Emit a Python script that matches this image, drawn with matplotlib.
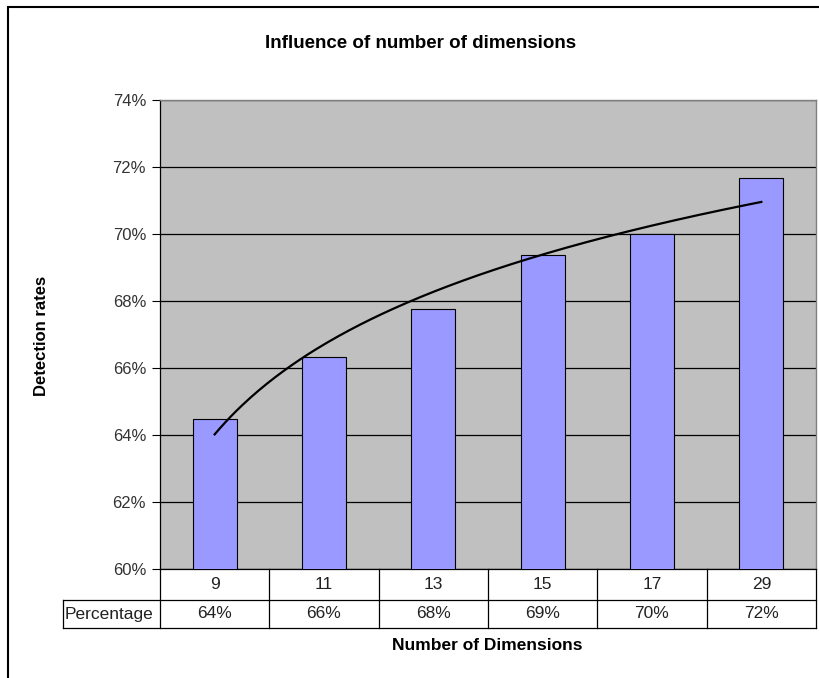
import numpy as np
import matplotlib.pyplot as plt
from matplotlib.patches import Rectangle
from matplotlib.lines import Line2D

# Detection rate per number of dimensions
dimensions = ["9", "11", "13", "15", "17", "29"]
detection_rates = [64.48, 66.32, 67.77, 69.36, 70.00, 71.66]
row_label = "Percentage"

y_ticks = [60, 62, 64, 66, 68, 70, 72, 74]

plt.rcParams["font.family"] = ["Liberation Sans", "DejaVu Sans"]

W, H = 820, 678
fig = plt.figure(figsize=(W / 100, H / 100), dpi=100)

# plot area in pixel coordinates
x0, x1 = 160, 816
y_top, y_bot = 100, 569
ax = fig.add_axes([x0 / W, 1 - y_bot / H, (x1 - x0) / W, (y_bot - y_top) / H])
ax.set_facecolor("#C0C0C0")

x = np.arange(len(dimensions))
ax.bar(x, detection_rates, width=0.4, color="#9999FF", edgecolor="black",
       linewidth=0.8, zorder=3)

# logarithmic trendline fitted on category index (1..n)
idx = np.arange(1, len(dimensions) + 1)
a, b = np.polyfit(np.log(idx), detection_rates, 1)
xs = np.linspace(1, len(dimensions), 200)
ax.plot(xs - 1, a * np.log(xs) + b, color="black", linewidth=1.6, zorder=4)

ax.set_xlim(-0.5, len(dimensions) - 0.5)
ax.set_ylim(y_ticks[0], y_ticks[-1])
ax.set_yticks(y_ticks)
ax.set_yticklabels([f"{t}%" for t in y_ticks], fontsize=12, color="#333333")
ax.set_xticks([])
ax.tick_params(axis="y", direction="out", length=6, width=0.8, pad=4)
ax.yaxis.grid(True, color="black", linewidth=0.9, zorder=1)
ax.set_axisbelow(True)

for side in ["top", "right"]:
    ax.spines[side].set_color("#808080")
    ax.spines[side].set_linewidth(1.0)
ax.spines["left"].set_color("black")
ax.spines["left"].set_linewidth(0.9)
ax.spines["bottom"].set_color("black")
ax.spines["bottom"].set_linewidth(0.9)

# data table below the plot
h_px = y_bot - y_top
w_px = x1 - x0
r1 = -31 / h_px
r2 = -59 / h_px
left_cell = (63 - x0) / w_px
tr = ax.transAxes
lkw = dict(color="black", linewidth=0.9, transform=tr, clip_on=False)
ax.add_line(Line2D([0, 0], [0, r2], **lkw))
ax.add_line(Line2D([1, 1], [0, r2], **lkw))
ax.add_line(Line2D([left_cell, 1], [r1, r1], **lkw))
ax.add_line(Line2D([left_cell, 1], [r2, r2], **lkw))
ax.add_line(Line2D([left_cell, left_cell], [r1, r2], **lkw))
n = len(dimensions)
for i in range(1, n):
    ax.add_line(Line2D([i / n, i / n], [0, r2], **lkw))
for i, (d, v) in enumerate(zip(dimensions, detection_rates)):
    cx = (i + 0.5) / n
    ax.text(cx, r1 / 2, d, transform=tr, ha="center", va="center",
            fontsize=12.5, color="#222222")
    ax.text(cx, (r1 + r2) / 2, f"{v:.0f}%", transform=tr, ha="center",
            va="center", fontsize=12.5, color="#222222")
ax.text(left_cell + 0.003, (r1 + r2) / 2, row_label, transform=tr, ha="left",
        va="center", fontsize=12.5, color="#222222")

# titles
fig.text(421 / W, 1 - 44 / H, "Influence of number of dimensions",
         ha="center", va="center", fontsize=13.5, fontweight="bold")
fig.text(487 / W, 1 - 646 / H, "Number of Dimensions",
         ha="center", va="center", fontsize=12.5, fontweight="bold")
fig.text(42 / W, 1 - 336 / H, "Detection rates", ha="center", va="center",
         rotation=90, fontsize=12, fontweight="bold")

# chart frame
fig.patches.append(Rectangle((8 / W, -0.05), 1.0, 1 - 7 / H + 0.05,
                             transform=fig.transFigure, fill=False,
                             edgecolor="black", linewidth=1.5))

fig.savefig("out.png", dpi=100)
